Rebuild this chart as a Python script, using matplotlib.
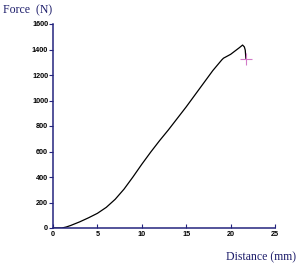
import matplotlib
matplotlib.use("Agg")
import matplotlib.pyplot as plt

# force / distance readings taken off the curve
distance = [0, 1.0, 1.5, 2.0, 3.0, 4.0, 5.0, 6.0, 7.0, 8.0, 9.0, 10.0, 11.0,
            12.0, 13.0, 14.0, 15.0, 16.0, 17.0, 18.0, 19.0, 19.2, 20.0, 21.0,
            21.35, 21.55, 21.65, 21.72]
force = [0, 0, 8, 20, 48, 80, 115, 162, 225, 305, 400, 500, 595,
         685, 770, 860, 950, 1045, 1140, 1235, 1318, 1332, 1362, 1415,
         1435, 1420, 1395, 1331]
break_point = (21.76, 1323)

xticks = [0, 5, 10, 15, 20, 25]
yticks = [0, 200, 400, 600, 800, 1000, 1200, 1400, 1600]

navy = "#24247e"
label_col = "#1c1c6a"

fig = plt.figure(figsize=(3.0, 2.67), dpi=100)
ax = fig.add_axes([53 / 300, 39 / 267, 222 / 300, 204 / 267])

ax.plot(distance, force, color="black", lw=0.9)
ax.plot(*break_point, marker="+", color="#d27ac8", ms=8, mew=0.8)

ax.set_xlim(0, 25)
ax.set_ylim(0, 1600)
ax.set_xticks(xticks)
ax.set_yticks(yticks)

for side in ("top", "right"):
    ax.spines[side].set_visible(False)
for side in ("left", "bottom"):
    ax.spines[side].set_color(navy)
    ax.spines[side].set_linewidth(1.1)

ax.tick_params(axis="x", direction="in", length=3, width=0.8, color=navy, pad=2.5)
ax.tick_params(axis="y", direction="out", length=3, width=0.8, color=navy, pad=0.5)
for lab in ax.get_xticklabels() + ax.get_yticklabels():
    lab.set_fontfamily("Liberation Sans")
    lab.set_fontweight("bold")
    lab.set_fontsize(5.2)

fig.text(3 / 300, 1 - 10 / 267, "Force  (N)", family="Liberation Serif",
         fontsize=8.5, color=label_col, va="center", ha="left")
fig.text(296 / 300, 1 - 257 / 267, "Distance (mm)", family="Liberation Serif",
         fontsize=8.5, color=label_col, va="center", ha="right")

fig.savefig("out.png", dpi=100)
